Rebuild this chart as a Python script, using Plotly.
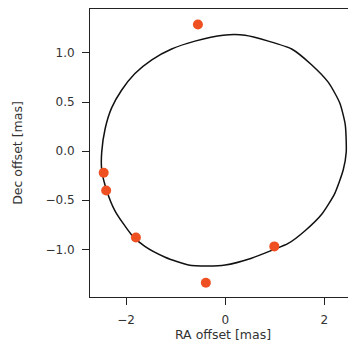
import plotly.graph_objects as go

# Orbit curve (RA offset, Dec offset) in mas
orbit_ra = [-2.49, -2.42, -2.29, -2.09, -1.82, -1.48, -1.08, -0.61, -0.04, 0.40,
            0.87, 1.34, 1.74, 2.08, 2.31, 2.42, 2.44, 2.38, 2.21, 1.95,
            1.61, 1.27, 0.94, 0.53, 0.00, -0.35, -0.74, -1.21, -1.62, -1.89,
            -2.22, -2.39, -2.49, -2.49]
orbit_dec = [-0.01, 0.23, 0.44, 0.62, 0.79, 0.93, 1.04, 1.12, 1.18, 1.18,
             1.12, 1.04, 0.88, 0.70, 0.49, 0.27, -0.01, -0.19, -0.43, -0.64,
             -0.81, -0.94, -1.01, -1.09, -1.16, -1.17, -1.16, -1.08, -0.97, -0.85,
             -0.61, -0.40, -0.19, -0.01]

# Observed positions
obs_ra = [-0.55, -2.45, -2.40, -1.80, 0.99, -0.39]
obs_dec = [1.29, -0.22, -0.40, -0.88, -0.97, -1.34]

x_ticks = [-2, 0, 2]
y_ticks = [-1.0, -0.5, 0.0, 0.5, 1.0]

fig = go.Figure()
fig.add_trace(go.Scatter(x=orbit_ra, y=orbit_dec, mode="lines",
                         line=dict(color="#111111", width=1.5, shape="spline", smoothing=0.6),
                         showlegend=False, hoverinfo="skip"))
fig.add_trace(go.Scatter(x=obs_ra, y=obs_dec, mode="markers",
                         marker=dict(color="#EF5021", size=10, line=dict(width=0)),
                         showlegend=False))

axis_common = dict(showgrid=False, zeroline=False, showline=True, linecolor="#222222",
                   linewidth=1, ticks="outside", ticklen=7, tickwidth=1,
                   tickcolor="#222222", ticklabelstandoff=5,
                   tickfont=dict(family="DejaVu Sans", size=12, color="#333333"))

fig.update_layout(
    width=348, height=338,
    margin=dict(l=82, r=0, t=1, b=49),
    paper_bgcolor="white", plot_bgcolor="white",
    xaxis=dict(range=[-2.726, 2.637], tickvals=x_ticks, mirror=True,
               ticktext=["\u22122", "0", "2"],
               title=dict(text="RA offset [mas]", standoff=2,
                          font=dict(family="DejaVu Sans", size=12.5, color="#333333")),
               **axis_common),
    yaxis=dict(range=[-1.485, 1.447], tickvals=y_ticks, mirror=False,
               ticktext=["\u22121.0", "\u22120.5", "0.0", "0.5", "1.0"],
               title=dict(text="Dec offset [mas]", standoff=20,
                          font=dict(family="DejaVu Sans", size=12.5, color="#333333")),
               **axis_common),
)

fig.write_html("out.html")
